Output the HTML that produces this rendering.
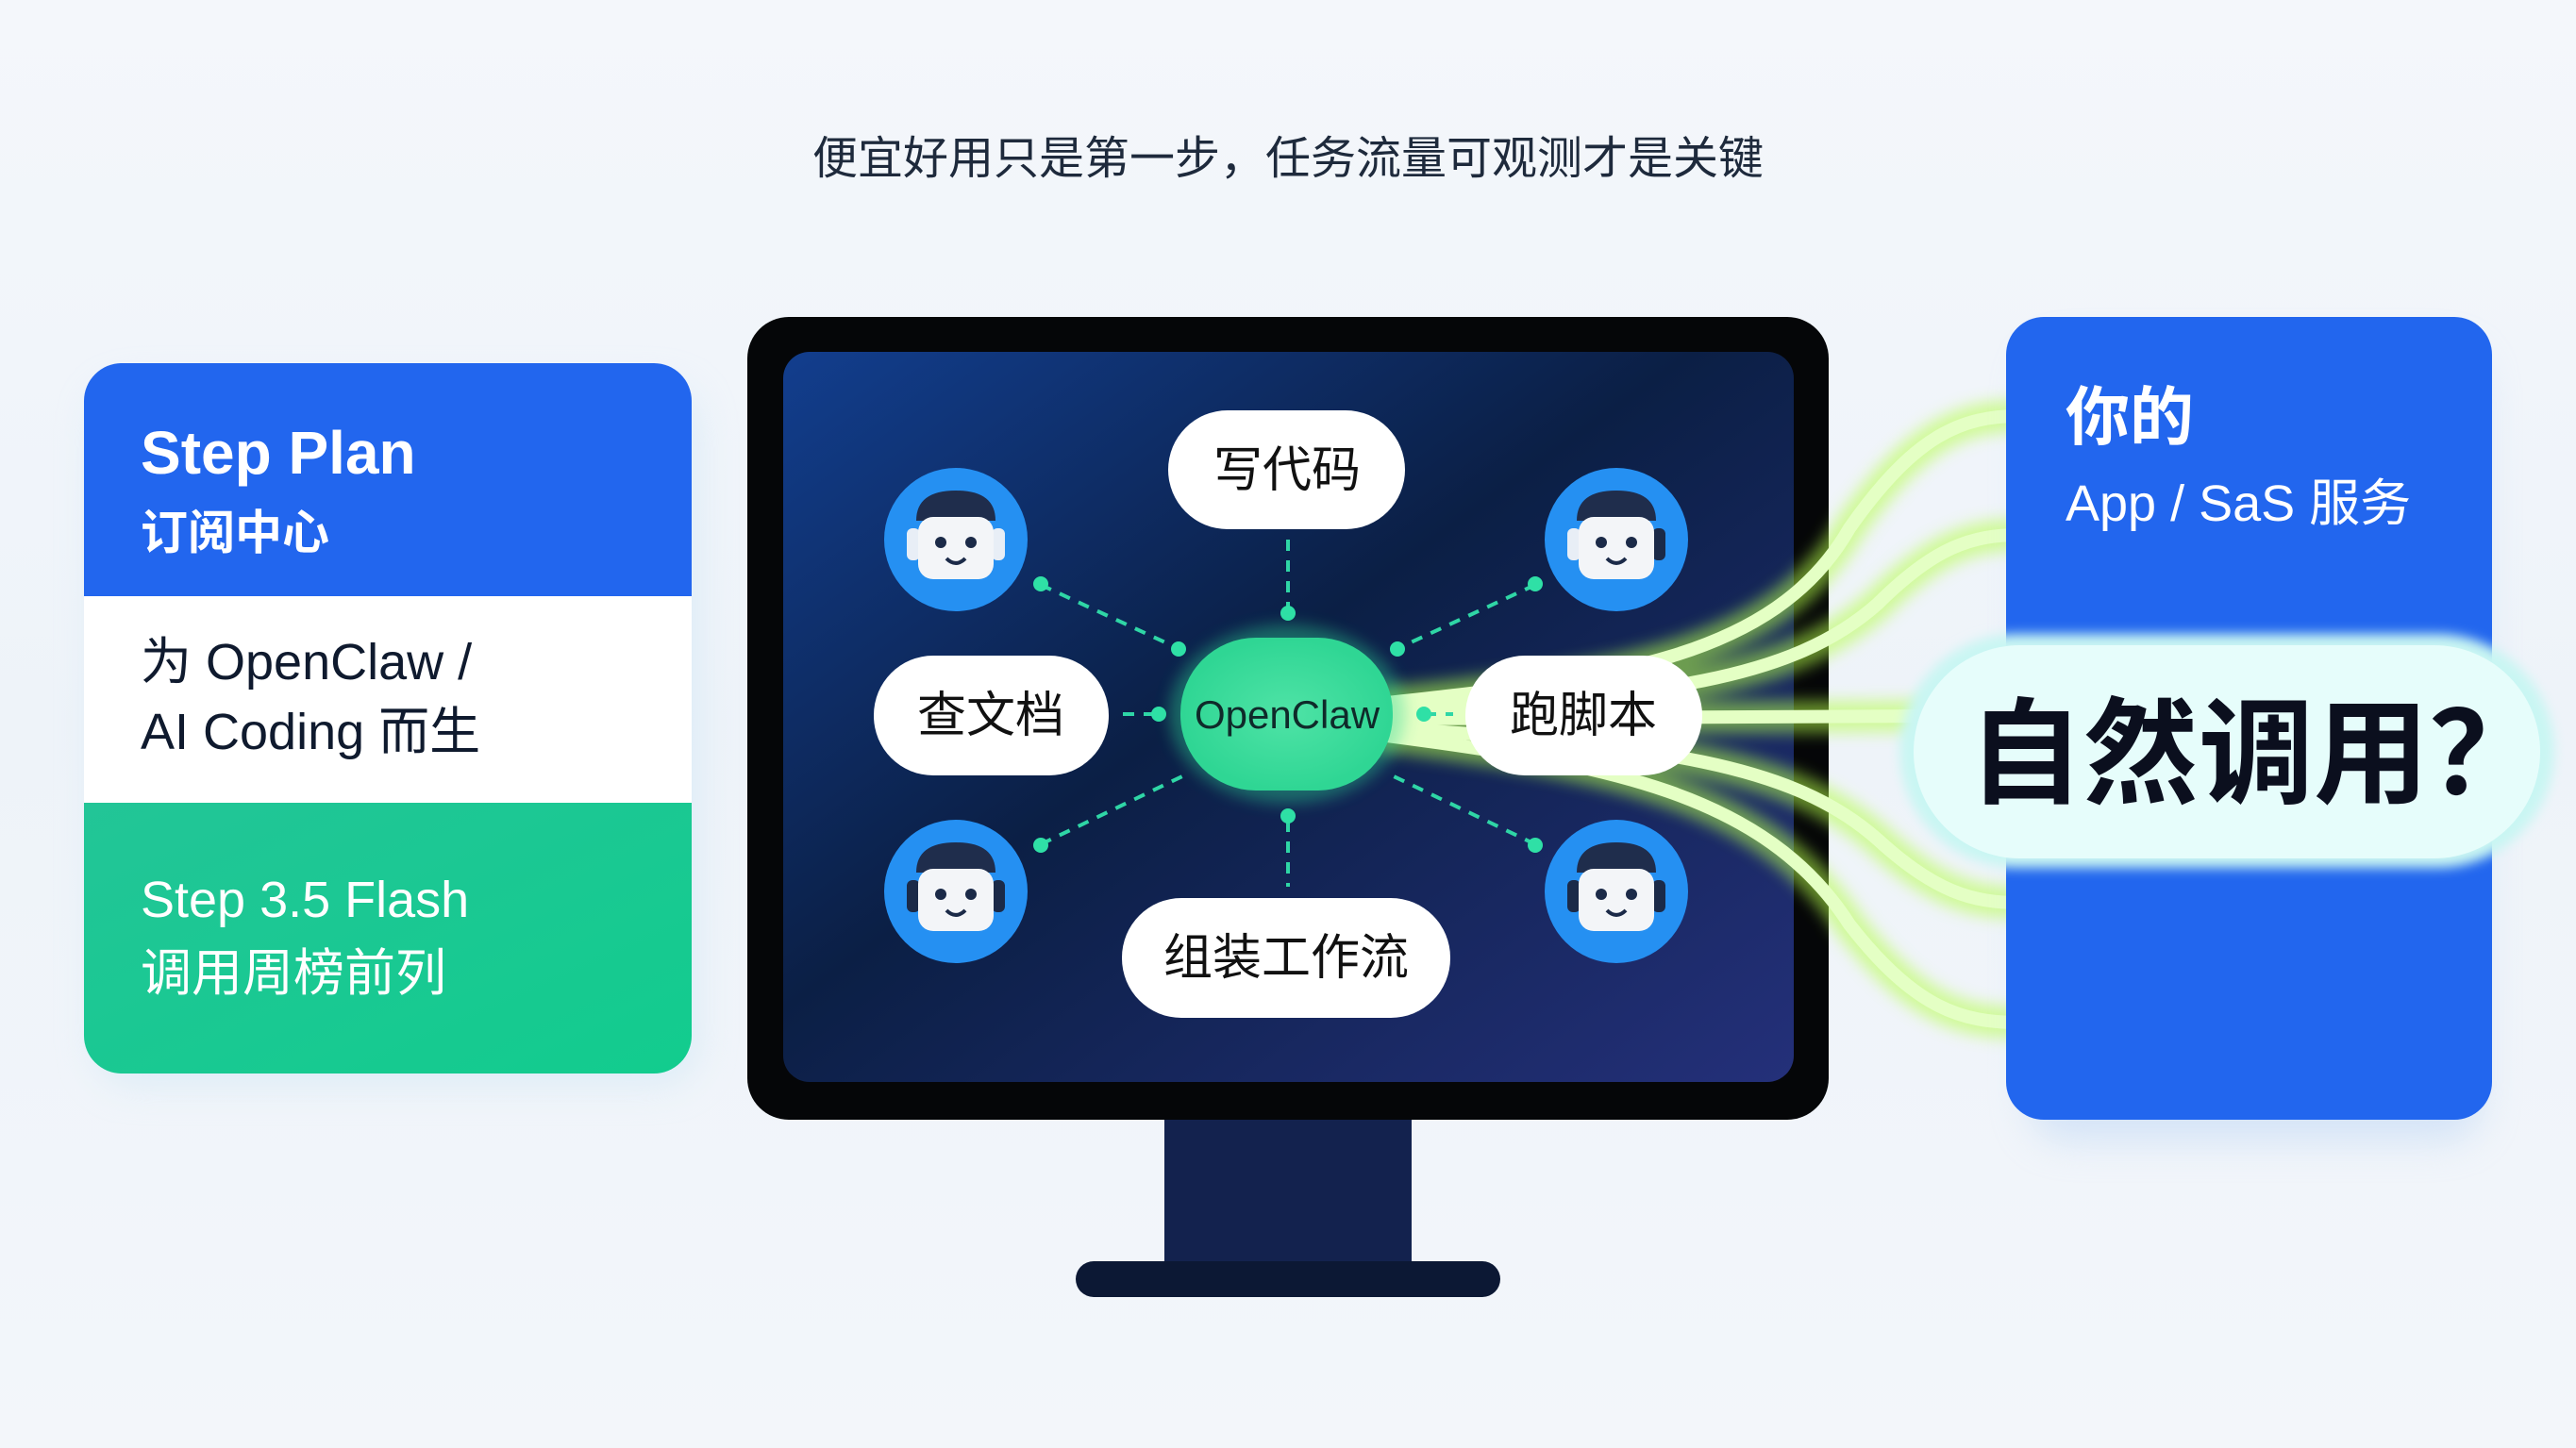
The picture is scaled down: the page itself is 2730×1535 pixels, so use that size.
<!DOCTYPE html>
<html><head><meta charset="utf-8"><style>
html,body{margin:0;padding:0;}
body{width:2730px;height:1535px;overflow:hidden;background:linear-gradient(180deg,#f4f7fb,#eef3f9 50%,#f3f6fa);font-family:"Liberation Sans","Noto Sans CJK SC",sans-serif;}
</style></head><body>
<svg width="2730" height="1535" viewBox="0 0 2730 1535" xmlns="http://www.w3.org/2000/svg" style="position:absolute;left:0;top:0">
<defs>
<linearGradient id="scr" x1="0" y1="0" x2="1" y2="1"><stop offset="0" stop-color="#123e8e"/><stop offset="0.45" stop-color="#0b1f45"/><stop offset="1" stop-color="#24307a"/></linearGradient>
<linearGradient id="grn" x1="0" y1="0" x2="1" y2="1"><stop offset="0" stop-color="#22c597"/><stop offset="1" stop-color="#12cc8e"/></linearGradient>
<radialGradient id="oc" cx="0.5" cy="0.5" r="0.5"><stop offset="0" stop-color="#4fe3a6"/><stop offset="1" stop-color="#2fd694"/></radialGradient>
<filter id="glow" x="-20%" y="-20%" width="140%" height="140%"><feGaussianBlur stdDeviation="8"/></filter>
<filter id="sh" x="-20%" y="-20%" width="140%" height="140%"><feGaussianBlur stdDeviation="20"/></filter>
</defs>
<text x="1365" y="184" text-anchor="middle" font-size="48" fill="#1e2a3c">便宜好用只是第一步，任务流量可观测才是关键</text>

<!-- left card -->
<rect x="100" y="410" width="640" height="740" rx="40" fill="#c9e4f5" opacity="0.5" filter="url(#sh)"/>
<path d="M129,385 H693 A40,40 0 0 1 733,425 V632 H89 V425 A40,40 0 0 1 129,385Z" fill="#2266ee"/>
<rect x="89" y="632" width="644" height="219" fill="#fff"/>
<path d="M89,851 H733 V1098 A40,40 0 0 1 693,1138 H129 A40,40 0 0 1 89,1098Z" fill="url(#grn)"/>
<text x="149" y="502" font-size="64" font-weight="bold" fill="#fff">Step Plan</text>
<text x="149" y="582" font-size="50" font-weight="bold" fill="#fff">订阅中心</text>
<text x="149" y="720" font-size="54" fill="#0f1a2e">为 OpenClaw /</text>
<text x="149" y="794" font-size="54" fill="#0f1a2e">AI Coding 而生</text>
<text x="149" y="972" font-size="54" fill="#fff">Step 3.5 Flash</text>
<text x="149" y="1050" font-size="54" fill="#fff">调用周榜前列</text>

<!-- monitor -->
<rect x="1234" y="1180" width="262" height="162" fill="#13224e"/>
<rect x="1140" y="1337" width="450" height="38" rx="19" fill="#0c1834"/>
<rect x="792" y="336" width="1146" height="851" rx="44" fill="#050608"/>
<rect x="830" y="373" width="1071" height="774" rx="28" fill="url(#scr)"/>

<!-- glow curves -->
<g fill="none" stroke-linecap="round">
<g stroke="#b6ff4a" stroke-width="34" opacity="0.55" filter="url(#glow)">
<path d="M1470,745 C1700,720 1880,700 1960,560 C2030,460 2080,441 2140,441"/>
<path d="M1470,752 C1760,740 1900,720 1990,640 C2050,580 2090,567 2140,567"/>
<path d="M1470,762 C1800,760 1950,759 2140,759"/>
<path d="M1470,772 C1760,790 1900,810 1990,890 C2050,945 2090,957 2140,957"/>
<path d="M1470,780 C1700,810 1870,840 1960,980 C2030,1070 2080,1084 2140,1084"/>
</g>
<g stroke="#e4ffc4" stroke-width="14">
<path d="M1470,745 C1700,720 1880,700 1960,560 C2030,460 2080,441 2140,441"/>
<path d="M1470,752 C1760,740 1900,720 1990,640 C2050,580 2090,567 2140,567"/>
<path d="M1470,762 C1800,760 1950,759 2140,759"/>
<path d="M1470,772 C1760,790 1900,810 1990,890 C2050,945 2090,957 2140,957"/>
<path d="M1470,780 C1700,810 1870,840 1960,980 C2030,1070 2080,1084 2140,1084"/>
</g>
</g>

<!-- dashed connectors -->
<g stroke="#2fd6a6" stroke-width="4" stroke-dasharray="12,10" fill="none">
<line x1="1365" y1="572" x2="1365" y2="645"/>
<line x1="1365" y1="870" x2="1365" y2="940"/>
<line x1="1103" y1="620" x2="1250" y2="688"/>
<line x1="1627" y1="620" x2="1480" y2="688"/>
<line x1="1103" y1="895" x2="1255" y2="822"/>
<line x1="1627" y1="895" x2="1475" y2="822"/>
<line x1="1190" y1="757" x2="1225" y2="757"/>
<line x1="1510" y1="757" x2="1540" y2="757"/>
</g>
<g fill="#2fe0a6">
<circle cx="1365" cy="650" r="8"/><circle cx="1365" cy="865" r="8"/>
<circle cx="1103" cy="619" r="8"/><circle cx="1627" cy="619" r="8"/>
<circle cx="1249" cy="688" r="8"/><circle cx="1481" cy="688" r="8"/>
<circle cx="1103" cy="896" r="8"/><circle cx="1627" cy="896" r="8"/>
<circle cx="1228" cy="757" r="8"/><circle cx="1509" cy="757" r="8"/>
</g>

<!-- center node -->
<ellipse cx="1364" cy="757" rx="125" ry="95" fill="#2fd694" opacity="0.4" filter="url(#glow)"/>
<rect x="1251" y="676" width="225" height="162" rx="80" fill="url(#oc)"/>
<text x="1364" y="772" text-anchor="middle" font-size="42" fill="#0f2a2a">OpenClaw</text>

<!-- pills -->
<g fill="#fff">
<rect x="1238" y="435" width="251" height="126" rx="63"/>
<rect x="926" y="695" width="249" height="127" rx="63"/>
<rect x="1553" y="695" width="251" height="127" rx="63"/>
<rect x="1189" y="952" width="348" height="127" rx="63"/>
</g>
<g font-size="52" fill="#111" text-anchor="middle">
<text x="1364" y="516">写代码</text>
<text x="1050" y="776">查文档</text>
<text x="1678" y="776">跑脚本</text>
<text x="1363" y="1033">组装工作流</text>
</g>
</svg>

<svg width="2730" height="1535" xmlns="http://www.w3.org/2000/svg" style="position:absolute;left:0;top:0">
<defs><filter id="g2"><feGaussianBlur stdDeviation="20"/></filter><filter id="g3"><feGaussianBlur stdDeviation="6"/></filter></defs>
<g transform="translate(1013,572)"><circle r="76" fill="#2590f2"/><rect x="-52" y="-12" width="14" height="34" rx="6" fill="#e8eef6"/><rect x="38" y="-12" width="14" height="34" rx="6" fill="#e8eef6"/><path d="M-42,-20 Q-42,-52 0,-52 Q42,-52 42,-20 Z" fill="#1f2d4c"/><rect x="-40" y="-24" width="80" height="66" rx="16" fill="#f3f5f8"/><circle cx="-16" cy="3" r="6" fill="#1b2a48"/><circle cx="16" cy="3" r="6" fill="#1b2a48"/><path d="M-10,20 Q0,30 10,20" stroke="#1b2a48" stroke-width="4" fill="none"/></g>
<g transform="translate(1713,572)"><circle r="76" fill="#2590f2"/><rect x="-52" y="-12" width="14" height="34" rx="6" fill="#e8eef6"/><rect x="38" y="-12" width="14" height="34" rx="6" fill="#1b2a48"/><path d="M-42,-20 Q-42,-52 0,-52 Q42,-52 42,-20 Z" fill="#1f2d4c"/><rect x="-40" y="-24" width="80" height="66" rx="16" fill="#f3f5f8"/><circle cx="-16" cy="3" r="6" fill="#1b2a48"/><circle cx="16" cy="3" r="6" fill="#1b2a48"/><path d="M-10,20 Q0,30 10,20" stroke="#1b2a48" stroke-width="4" fill="none"/></g>
<g transform="translate(1013,945)"><circle r="76" fill="#2590f2"/><rect x="-52" y="-12" width="14" height="34" rx="6" fill="#1b2a48"/><rect x="38" y="-12" width="14" height="34" rx="6" fill="#1b2a48"/><path d="M-42,-20 Q-42,-52 0,-52 Q42,-52 42,-20 Z" fill="#1f2d4c"/><rect x="-40" y="-24" width="80" height="66" rx="16" fill="#f3f5f8"/><circle cx="-16" cy="3" r="6" fill="#1b2a48"/><circle cx="16" cy="3" r="6" fill="#1b2a48"/><path d="M-10,20 Q0,30 10,20" stroke="#1b2a48" stroke-width="4" fill="none"/></g>
<g transform="translate(1713,945)"><circle r="76" fill="#2590f2"/><rect x="-52" y="-12" width="14" height="34" rx="6" fill="#1b2a48"/><rect x="38" y="-12" width="14" height="34" rx="6" fill="#1b2a48"/><path d="M-42,-20 Q-42,-52 0,-52 Q42,-52 42,-20 Z" fill="#1f2d4c"/><rect x="-40" y="-24" width="80" height="66" rx="16" fill="#f3f5f8"/><circle cx="-16" cy="3" r="6" fill="#1b2a48"/><circle cx="16" cy="3" r="6" fill="#1b2a48"/><path d="M-10,20 Q0,30 10,20" stroke="#1b2a48" stroke-width="4" fill="none"/></g>

<!-- right card -->
<rect x="2150" y="370" width="480" height="840" rx="40" fill="#b8d3f5" opacity="0.5" filter="url(#g2)"/>
<rect x="2126" y="336" width="515" height="851" rx="40" fill="#2266ee"/>
<text x="2189" y="466" font-size="68" font-weight="bold" fill="#fff" font-family="Liberation Sans, Noto Sans CJK SC, sans-serif">你的</text>
<text x="2189" y="552" font-size="54" fill="#fff" font-family="Liberation Sans, Noto Sans CJK SC, sans-serif">App / SaS 服务</text>
<rect x="2013" y="672" width="694" height="248" rx="124" fill="#c9f6f3" filter="url(#g3)"/>
<rect x="2028" y="684" width="664" height="226" rx="113" fill="#e6fdfb"/>
<text x="2086" y="842" font-size="122" font-weight="bold" fill="#0b0f1e" font-family="Liberation Sans, Noto Sans CJK SC, sans-serif">自然调用？</text>
</svg>
</body></html>
